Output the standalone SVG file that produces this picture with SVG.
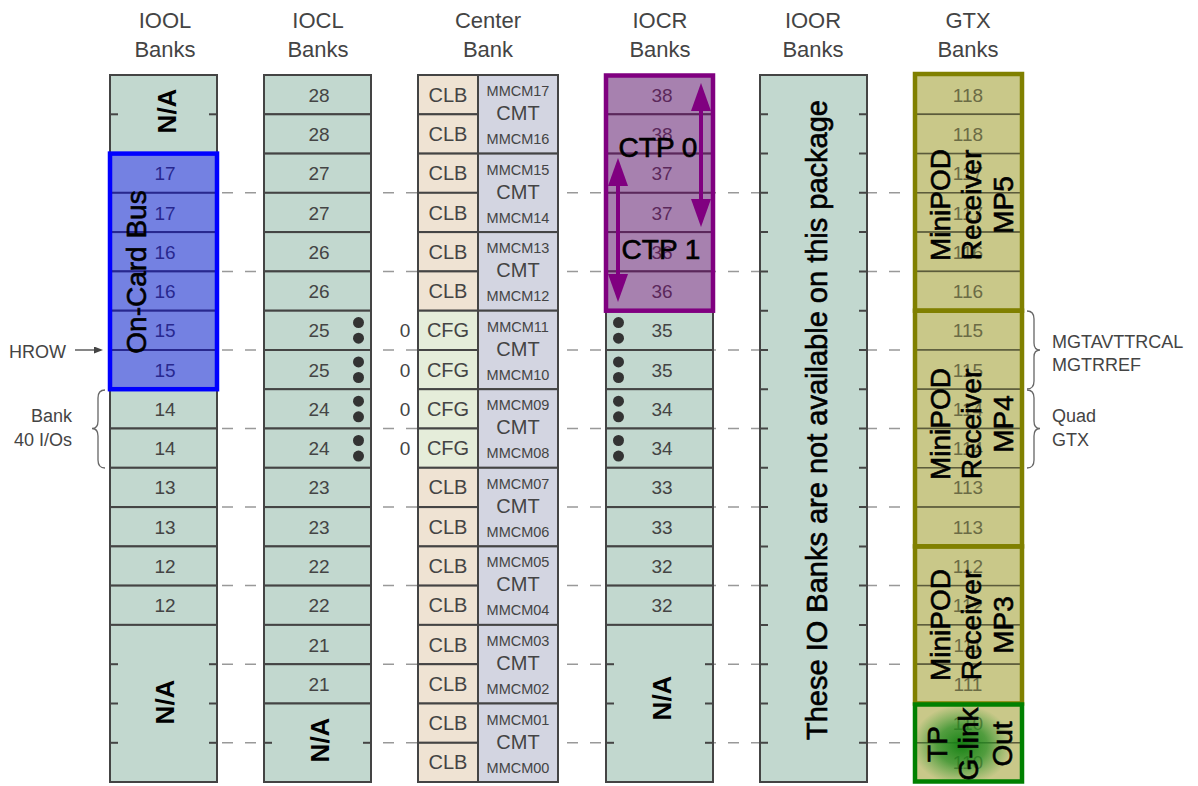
<svg xmlns="http://www.w3.org/2000/svg" width="1198" height="786" viewBox="0 0 1198 786">
<defs>
<style>
text{font-family:"Liberation Sans",Arial,sans-serif}
.hdr{font-size:22px;fill:#444;text-anchor:middle}
.cell{fill:#c2d8cf;stroke:#444;stroke-width:2}
.clb{fill:#efe3d3;stroke:#444;stroke-width:2}
.cfg{fill:#e5edda;stroke:#444;stroke-width:2}
.cmt{fill:#d3d5e1;stroke:#444;stroke-width:2}
.gtx{fill:#c9c889;stroke:#5b5b3b;stroke-width:1.5}
.num{font-size:19px;fill:#444;text-anchor:middle}
.gnum{font-size:19px;fill:#6b6b45;text-anchor:middle}
.clbt{font-size:20px;fill:#444;text-anchor:middle}
.mm{font-size:14.5px;fill:#444;text-anchor:middle}
.tick{stroke:#444;stroke-width:2}
.dash{stroke:#999;stroke-width:1.5;stroke-dasharray:11 12;fill:none}
.big{font-size:28px;fill:#000;stroke:#000;stroke-width:0.6;text-anchor:middle}
.na{font-size:26px;font-weight:bold;fill:#000;text-anchor:middle}
.note{font-size:18px;fill:#444}
.brace{fill:none;stroke:#666;stroke-width:1.3}
.dot{fill:#333}
</style>
<marker id="ah" viewBox="0 0 28 20" refX="2" refY="10" markerWidth="28" markerHeight="20" markerUnits="userSpaceOnUse" orient="auto-start-reverse"><path d="M0,0 L28,10 L0,20 z" fill="#800080"/></marker>
<marker id="ahs" viewBox="0 0 9 7" refX="0" refY="3.5" markerWidth="9" markerHeight="7" markerUnits="userSpaceOnUse" orient="auto"><path d="M0,0 L9,3.5 L0,7 z" fill="#444"/></marker>
<radialGradient id="glow" cx="0.5" cy="0.5" r="0.5">
<stop offset="0" stop-color="#0f7f0f" stop-opacity="0.95"/>
<stop offset="0.5" stop-color="#1f8a1f" stop-opacity="0.7"/>
<stop offset="1" stop-color="#2f9a2f" stop-opacity="0"/>
</radialGradient>
</defs>
<rect width="1198" height="786" fill="#fff"/>

<g id="headers">
<text class="hdr" x="165" y="28">IOOL</text><text class="hdr" x="165" y="57">Banks</text>
<text class="hdr" x="318" y="28">IOCL</text><text class="hdr" x="318" y="57">Banks</text>
<text class="hdr" x="488" y="28">Center</text><text class="hdr" x="488" y="57">Bank</text>
<text class="hdr" x="660" y="28">IOCR</text><text class="hdr" x="660" y="57">Banks</text>
<text class="hdr" x="813" y="28">IOOR</text><text class="hdr" x="813" y="57">Banks</text>
<text class="hdr" x="968" y="28">GTX</text><text class="hdr" x="968" y="57">Banks</text>
</g>

<g id="connectors">
<line class="dash" x1="222" y1="192.8" x2="912" y2="192.8"/>
<line class="dash" x1="222" y1="271.4" x2="912" y2="271.4"/>
<line class="dash" x1="222" y1="350" x2="912" y2="350"/>
<line class="dash" x1="222" y1="428.5" x2="912" y2="428.5"/>
<line class="dash" x1="222" y1="507.1" x2="912" y2="507.1"/>
<line class="dash" x1="222" y1="585.6" x2="912" y2="585.6"/>
<line class="dash" x1="222" y1="664.2" x2="912" y2="664.2"/>
<line class="dash" x1="222" y1="742.8" x2="912" y2="742.8"/>
</g>

<g id="iool">
<rect class="cell" x="110" y="75" width="107" height="78.6"/>
<line class="tick" x1="110" y1="114.3" x2="118" y2="114.3"/><line class="tick" x1="209" y1="114.3" x2="217" y2="114.3"/>
<rect class="cell" x="110" y="153.6" width="107" height="39.3"/><text class="num" x="165" y="180.2">17</text>
<rect class="cell" x="110" y="192.8" width="107" height="39.3"/><text class="num" x="165" y="219.5">17</text>
<rect class="cell" x="110" y="232.1" width="107" height="39.3"/><text class="num" x="165" y="258.8">16</text>
<rect class="cell" x="110" y="271.4" width="107" height="39.3"/><text class="num" x="165" y="298">16</text>
<rect class="cell" x="110" y="310.7" width="107" height="39.3"/><text class="num" x="165" y="337.3">15</text>
<rect class="cell" x="110" y="350" width="107" height="39.3"/><text class="num" x="165" y="376.6">15</text>
<rect class="cell" x="110" y="389.2" width="107" height="39.3"/><text class="num" x="165" y="415.9">14</text>
<rect class="cell" x="110" y="428.5" width="107" height="39.3"/><text class="num" x="165" y="455.2">14</text>
<rect class="cell" x="110" y="467.8" width="107" height="39.3"/><text class="num" x="165" y="494.4">13</text>
<rect class="cell" x="110" y="507.1" width="107" height="39.3"/><text class="num" x="165" y="533.7">13</text>
<rect class="cell" x="110" y="546.4" width="107" height="39.3"/><text class="num" x="165" y="573">12</text>
<rect class="cell" x="110" y="585.6" width="107" height="39.3"/><text class="num" x="165" y="612.3">12</text>
<rect class="cell" x="110" y="624.9" width="107" height="157.1"/>
<line class="tick" x1="110" y1="664.2" x2="118" y2="664.2"/><line class="tick" x1="209" y1="664.2" x2="217" y2="664.2"/>
<line class="tick" x1="110" y1="703.5" x2="118" y2="703.5"/><line class="tick" x1="209" y1="703.5" x2="217" y2="703.5"/>
<line class="tick" x1="110" y1="742.8" x2="118" y2="742.8"/><line class="tick" x1="209" y1="742.8" x2="217" y2="742.8"/>
<text class="na" transform="translate(176,111) rotate(-90)">N/A</text>
<text class="na" transform="translate(174,702) rotate(-90)">N/A</text>
</g>

<g id="oncard-bus">
<rect x="110" y="153.6" width="107" height="235.6" fill="#0000ff" fill-opacity="0.4" stroke="#0000ff" stroke-width="4.5"/>
<text class="big" transform="translate(146,272) rotate(-90)">On-Card Bus</text>
</g>

<g id="iocl">
<rect class="cell" x="264" y="75" width="107" height="39.3"/><text class="num" x="319" y="101.6">28</text>
<rect class="cell" x="264" y="114.3" width="107" height="39.3"/><text class="num" x="319" y="140.9">28</text>
<rect class="cell" x="264" y="153.6" width="107" height="39.3"/><text class="num" x="319" y="180.2">27</text>
<rect class="cell" x="264" y="192.8" width="107" height="39.3"/><text class="num" x="319" y="219.5">27</text>
<rect class="cell" x="264" y="232.1" width="107" height="39.3"/><text class="num" x="319" y="258.8">26</text>
<rect class="cell" x="264" y="271.4" width="107" height="39.3"/><text class="num" x="319" y="298">26</text>
<rect class="cell" x="264" y="310.7" width="107" height="39.3"/><text class="num" x="319" y="337.3">25</text>
<rect class="cell" x="264" y="350" width="107" height="39.3"/><text class="num" x="319" y="376.6">25</text>
<rect class="cell" x="264" y="389.2" width="107" height="39.3"/><text class="num" x="319" y="415.9">24</text>
<rect class="cell" x="264" y="428.5" width="107" height="39.3"/><text class="num" x="319" y="455.2">24</text>
<rect class="cell" x="264" y="467.8" width="107" height="39.3"/><text class="num" x="319" y="494.4">23</text>
<rect class="cell" x="264" y="507.1" width="107" height="39.3"/><text class="num" x="319" y="533.7">23</text>
<rect class="cell" x="264" y="546.4" width="107" height="39.3"/><text class="num" x="319" y="573">22</text>
<rect class="cell" x="264" y="585.6" width="107" height="39.3"/><text class="num" x="319" y="612.3">22</text>
<rect class="cell" x="264" y="624.9" width="107" height="39.3"/><text class="num" x="319" y="651.6">21</text>
<rect class="cell" x="264" y="664.2" width="107" height="39.3"/><text class="num" x="319" y="690.8">21</text>
<rect class="cell" x="264" y="703.5" width="107" height="78.5"/>
<line class="tick" x1="264" y1="742.8" x2="272" y2="742.8"/><line class="tick" x1="363" y1="742.8" x2="371" y2="742.8"/>
<text class="na" transform="translate(329,740) rotate(-90)">N/A</text>
<circle class="dot" cx="358.5" cy="322.6" r="5.5"/><circle class="dot" cx="358.5" cy="338.2" r="5.5"/>
<circle class="dot" cx="358.5" cy="361.9" r="5.5"/><circle class="dot" cx="358.5" cy="377.5" r="5.5"/>
<circle class="dot" cx="358.5" cy="401.2" r="5.5"/><circle class="dot" cx="358.5" cy="416.8" r="5.5"/>
<circle class="dot" cx="358.5" cy="440.5" r="5.5"/><circle class="dot" cx="358.5" cy="456.1" r="5.5"/>
</g>

<g id="center-bank">
<rect class="clb" x="418" y="75" width="60" height="39.3"/><text class="clbt" x="448" y="101.6">CLB</text>
<rect class="clb" x="418" y="114.3" width="60" height="39.3"/><text class="clbt" x="448" y="140.9">CLB</text>
<rect class="clb" x="418" y="153.6" width="60" height="39.3"/><text class="clbt" x="448" y="180.2">CLB</text>
<rect class="clb" x="418" y="192.8" width="60" height="39.3"/><text class="clbt" x="448" y="219.5">CLB</text>
<rect class="clb" x="418" y="232.1" width="60" height="39.3"/><text class="clbt" x="448" y="258.8">CLB</text>
<rect class="clb" x="418" y="271.4" width="60" height="39.3"/><text class="clbt" x="448" y="298">CLB</text>
<rect class="cfg" x="418" y="310.7" width="60" height="39.3"/><text class="clbt" x="448" y="337.3">CFG</text>
<rect class="cfg" x="418" y="350" width="60" height="39.3"/><text class="clbt" x="448" y="376.6">CFG</text>
<rect class="cfg" x="418" y="389.2" width="60" height="39.3"/><text class="clbt" x="448" y="415.9">CFG</text>
<rect class="cfg" x="418" y="428.5" width="60" height="39.3"/><text class="clbt" x="448" y="455.2">CFG</text>
<rect class="clb" x="418" y="467.8" width="60" height="39.3"/><text class="clbt" x="448" y="494.4">CLB</text>
<rect class="clb" x="418" y="507.1" width="60" height="39.3"/><text class="clbt" x="448" y="533.7">CLB</text>
<rect class="clb" x="418" y="546.4" width="60" height="39.3"/><text class="clbt" x="448" y="573">CLB</text>
<rect class="clb" x="418" y="585.6" width="60" height="39.3"/><text class="clbt" x="448" y="612.3">CLB</text>
<rect class="clb" x="418" y="624.9" width="60" height="39.3"/><text class="clbt" x="448" y="651.6">CLB</text>
<rect class="clb" x="418" y="664.2" width="60" height="39.3"/><text class="clbt" x="448" y="690.8">CLB</text>
<rect class="clb" x="418" y="703.5" width="60" height="39.3"/><text class="clbt" x="448" y="730.1">CLB</text>
<rect class="clb" x="418" y="742.8" width="60" height="39.2"/><text class="clbt" x="448" y="769.4">CLB</text>
<text class="num" x="405" y="337.3">0</text><text class="num" x="405" y="376.6">0</text><text class="num" x="405" y="415.9">0</text><text class="num" x="405" y="455.2">0</text>
<rect class="cmt" x="478" y="75" width="80" height="78.6"/><text class="mm" x="518" y="96">MMCM17</text><text class="clbt" x="518" y="120">CMT</text><text class="mm" x="518" y="144">MMCM16</text>
<rect class="cmt" x="478" y="153.6" width="80" height="78.5"/><text class="mm" x="518" y="174.6">MMCM15</text><text class="clbt" x="518" y="198.6">CMT</text><text class="mm" x="518" y="222.6">MMCM14</text>
<rect class="cmt" x="478" y="232.1" width="80" height="78.6"/><text class="mm" x="518" y="253.1">MMCM13</text><text class="clbt" x="518" y="277.1">CMT</text><text class="mm" x="518" y="301.1">MMCM12</text>
<rect class="cmt" x="478" y="310.7" width="80" height="78.5"/><text class="mm" x="518" y="331.7">MMCM11</text><text class="clbt" x="518" y="355.7">CMT</text><text class="mm" x="518" y="379.7">MMCM10</text>
<rect class="cmt" x="478" y="389.2" width="80" height="78.6"/><text class="mm" x="518" y="410.2">MMCM09</text><text class="clbt" x="518" y="434.2">CMT</text><text class="mm" x="518" y="458.2">MMCM08</text>
<rect class="cmt" x="478" y="467.8" width="80" height="78.6"/><text class="mm" x="518" y="488.8">MMCM07</text><text class="clbt" x="518" y="512.8">CMT</text><text class="mm" x="518" y="536.8">MMCM06</text>
<rect class="cmt" x="478" y="546.4" width="80" height="78.5"/><text class="mm" x="518" y="567.4">MMCM05</text><text class="clbt" x="518" y="591.4">CMT</text><text class="mm" x="518" y="615.4">MMCM04</text>
<rect class="cmt" x="478" y="624.9" width="80" height="78.6"/><text class="mm" x="518" y="645.9">MMCM03</text><text class="clbt" x="518" y="669.9">CMT</text><text class="mm" x="518" y="693.9">MMCM02</text>
<rect class="cmt" x="478" y="703.5" width="80" height="78.5"/><text class="mm" x="518" y="724.5">MMCM01</text><text class="clbt" x="518" y="748.5">CMT</text><text class="mm" x="518" y="772.5">MMCM00</text>
</g>

<g id="iocr">
<rect class="cell" x="606" y="75" width="107" height="39.3"/><text class="num" x="662" y="101.6">38</text>
<rect class="cell" x="606" y="114.3" width="107" height="39.3"/><text class="num" x="662" y="140.9">38</text>
<rect class="cell" x="606" y="153.6" width="107" height="39.3"/><text class="num" x="662" y="180.2">37</text>
<rect class="cell" x="606" y="192.8" width="107" height="39.3"/><text class="num" x="662" y="219.5">37</text>
<rect class="cell" x="606" y="232.1" width="107" height="39.3"/><text class="num" x="662" y="258.8">36</text>
<rect class="cell" x="606" y="271.4" width="107" height="39.3"/><text class="num" x="662" y="298">36</text>
<rect class="cell" x="606" y="310.7" width="107" height="39.3"/><text class="num" x="662" y="337.3">35</text>
<rect class="cell" x="606" y="350" width="107" height="39.3"/><text class="num" x="662" y="376.6">35</text>
<rect class="cell" x="606" y="389.2" width="107" height="39.3"/><text class="num" x="662" y="415.9">34</text>
<rect class="cell" x="606" y="428.5" width="107" height="39.3"/><text class="num" x="662" y="455.2">34</text>
<rect class="cell" x="606" y="467.8" width="107" height="39.3"/><text class="num" x="662" y="494.4">33</text>
<rect class="cell" x="606" y="507.1" width="107" height="39.3"/><text class="num" x="662" y="533.7">33</text>
<rect class="cell" x="606" y="546.4" width="107" height="39.3"/><text class="num" x="662" y="573">32</text>
<rect class="cell" x="606" y="585.6" width="107" height="39.3"/><text class="num" x="662" y="612.3">32</text>
<rect class="cell" x="606" y="624.9" width="107" height="157.1"/>
<line class="tick" x1="606" y1="664.2" x2="614" y2="664.2"/><line class="tick" x1="705" y1="664.2" x2="713" y2="664.2"/>
<line class="tick" x1="606" y1="703.5" x2="614" y2="703.5"/><line class="tick" x1="705" y1="703.5" x2="713" y2="703.5"/>
<line class="tick" x1="606" y1="742.8" x2="614" y2="742.8"/><line class="tick" x1="705" y1="742.8" x2="713" y2="742.8"/>
<text class="na" transform="translate(671,698) rotate(-90)">N/A</text>
<circle class="dot" cx="618.5" cy="322.6" r="5.5"/><circle class="dot" cx="618.5" cy="338.2" r="5.5"/>
<circle class="dot" cx="618.5" cy="361.9" r="5.5"/><circle class="dot" cx="618.5" cy="377.5" r="5.5"/>
<circle class="dot" cx="618.5" cy="401.2" r="5.5"/><circle class="dot" cx="618.5" cy="416.8" r="5.5"/>
<circle class="dot" cx="618.5" cy="440.5" r="5.5"/><circle class="dot" cx="618.5" cy="456.1" r="5.5"/>
</g>

<g id="ctp">
<rect x="606" y="75.5" width="107" height="235.2" fill="#800080" fill-opacity="0.4" stroke="#800080" stroke-width="4.5"/>
<line x1="701" y1="109" x2="701" y2="201" stroke="#800080" stroke-width="4" marker-start="url(#ah)" marker-end="url(#ah)"/>
<line x1="618" y1="184" x2="618" y2="276" stroke="#800080" stroke-width="4" marker-start="url(#ah)" marker-end="url(#ah)"/>
<text class="big" x="658" y="157">CTP 0</text>
<text class="big" x="661" y="259">CTP 1</text>
</g>

<g id="ioor">
<rect class="cell" x="760" y="75" width="107" height="707"/>
<path class="tick" d="M760,114.3h8M859,114.3h8M760,153.6h8M859,153.6h8M760,192.8h8M859,192.8h8M760,232.1h8M859,232.1h8M760,271.4h8M859,271.4h8M760,310.7h8M859,310.7h8M760,350h8M859,350h8M760,389.2h8M859,389.2h8M760,428.5h8M859,428.5h8M760,467.8h8M859,467.8h8M760,507.1h8M859,507.1h8M760,546.4h8M859,546.4h8M760,585.6h8M859,585.6h8M760,624.9h8M859,624.9h8M760,664.2h8M859,664.2h8M760,703.5h8M859,703.5h8M760,742.8h8M859,742.8h8"/>
<text class="big" style="font-size:29px" transform="translate(827,420) rotate(-90)">These IO Banks are not available on this package</text>
</g>

<g id="gtx">
<rect class="gtx" x="915" y="75" width="107" height="39.3"/><text class="gnum" x="968" y="101.6">118</text>
<rect class="gtx" x="915" y="114.3" width="107" height="39.3"/><text class="gnum" x="968" y="140.9">118</text>
<rect class="gtx" x="915" y="153.6" width="107" height="39.3"/><text class="gnum" x="968" y="180.2">117</text>
<rect class="gtx" x="915" y="192.8" width="107" height="39.3"/><text class="gnum" x="968" y="219.5">117</text>
<rect class="gtx" x="915" y="232.1" width="107" height="39.3"/><text class="gnum" x="968" y="258.8">116</text>
<rect class="gtx" x="915" y="271.4" width="107" height="39.3"/><text class="gnum" x="968" y="298">116</text>
<rect class="gtx" x="915" y="310.7" width="107" height="39.3"/><text class="gnum" x="968" y="337.3">115</text>
<rect class="gtx" x="915" y="350" width="107" height="39.3"/><text class="gnum" x="968" y="376.6">115</text>
<rect class="gtx" x="915" y="389.2" width="107" height="39.3"/><text class="gnum" x="968" y="415.9">114</text>
<rect class="gtx" x="915" y="428.5" width="107" height="39.3"/><text class="gnum" x="968" y="455.2">114</text>
<rect class="gtx" x="915" y="467.8" width="107" height="39.3"/><text class="gnum" x="968" y="494.4">113</text>
<rect class="gtx" x="915" y="507.1" width="107" height="39.3"/><text class="gnum" x="968" y="533.7">113</text>
<rect class="gtx" x="915" y="546.4" width="107" height="39.3"/><text class="gnum" x="968" y="573">112</text>
<rect class="gtx" x="915" y="585.6" width="107" height="39.3"/><text class="gnum" x="968" y="612.3">112</text>
<rect class="gtx" x="915" y="624.9" width="107" height="39.3"/><text class="gnum" x="968" y="651.6">111</text>
<rect class="gtx" x="915" y="664.2" width="107" height="39.3"/><text class="gnum" x="968" y="690.8">111</text>
<rect class="gtx" x="915" y="703.5" width="107" height="39.3"/><text class="gnum" x="968" y="730.1">110</text>
<rect class="gtx" x="915" y="742.8" width="107" height="39.2"/><text class="gnum" x="968" y="769.4">110</text>
</g>

<g id="mp5">
<rect x="915" y="74" width="107" height="236.7" fill="none" stroke="#808000" stroke-width="4.5"/>
<g transform="translate(968,205) rotate(-90)"><text class="big" x="0" y="-18">MiniPOD</text><text class="big" x="0" y="13">Receiver</text><text class="big" x="0" y="45">MP5</text></g>
</g>
<g id="mp4">
<rect x="915" y="310.7" width="107" height="235.7" fill="none" stroke="#808000" stroke-width="4.5"/>
<g transform="translate(968,424) rotate(-90)"><text class="big" x="0" y="-18">MiniPOD</text><text class="big" x="0" y="13">Receiver</text><text class="big" x="0" y="45">MP4</text></g>
</g>
<g id="mp3">
<rect x="915" y="546.4" width="107" height="157.1" fill="none" stroke="#808000" stroke-width="4.5"/>
<g transform="translate(968,625) rotate(-90)"><text class="big" x="0" y="-18">MiniPOD</text><text class="big" x="0" y="13">Receiver</text><text class="big" x="0" y="45">MP3</text></g>
</g>
<g id="tp-glink">
<ellipse cx="962" cy="745" rx="50" ry="40" fill="url(#glow)"/>
<rect x="915" y="704.5" width="107" height="77" fill="none" stroke="#008000" stroke-width="4.5"/>
<g transform="translate(968,744) rotate(-90)"><text class="big" x="0" y="-21">TP</text><text class="big" x="0" y="10">G-link</text><text class="big" x="0" y="44">Out</text></g>
</g>

<g id="annotations">
<text class="note" x="9" y="358">HROW</text>
<line x1="75" y1="350" x2="94" y2="350" stroke="#444" stroke-width="1.3" marker-end="url(#ahs)"/>
<text class="note" x="72" y="422" text-anchor="end">Bank</text>
<text class="note" x="72" y="446" text-anchor="end">40 I/Os</text>
<path class="brace" d="M105,390 Q98,390 98,398 L98,421 Q98,428.5 92,428.5 Q98,428.5 98,436 L98,460 Q98,468 105,468"/>
<path class="brace" d="M1027,311 Q1034,311 1034,319 L1034,343 Q1034,350 1040,350 Q1034,350 1034,357 L1034,381 Q1034,389 1027,389"/>
<path class="brace" d="M1027,390 Q1034,390 1034,398 L1034,421 Q1034,428.5 1040,428.5 Q1034,428.5 1034,436 L1034,460 Q1034,468 1027,468"/>
<text class="note" x="1052" y="348">MGTAVTTRCAL</text>
<text class="note" x="1052" y="371">MGTRREF</text>
<text class="note" x="1052" y="422">Quad</text>
<text class="note" x="1052" y="446">GTX</text>
</g>
</svg>
